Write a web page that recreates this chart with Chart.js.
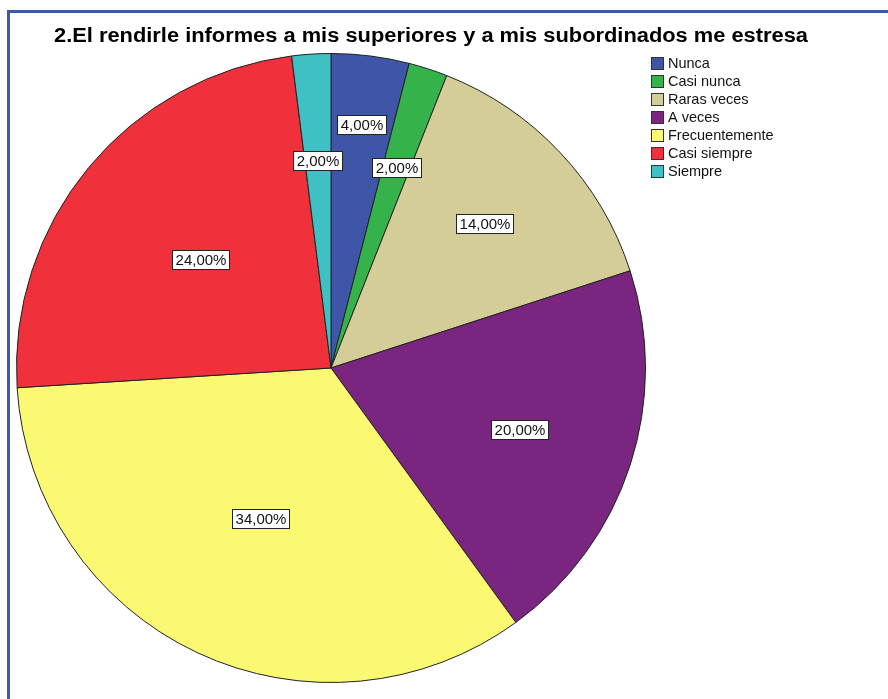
<!DOCTYPE html>
<html>
<head>
<meta charset="utf-8">
<script src="https://cdn.jsdelivr.net/npm/chart.js@4.4.1/dist/chart.umd.min.js"></script>
<style>
    body { margin: 0; background: #fff; }
    #wrap { position: relative; width: 888px; height: 699px; }
</style>
</head>
<body>
<div id="wrap"><canvas id="pieChart"></canvas></div>
<script>
// Survey answers for item 2 (percent of respondents)
const categories = ['Nunca', 'Casi nunca', 'Raras veces', 'A veces', 'Frecuentemente', 'Casi siempre', 'Siempre'];
const percents = [4, 2, 14, 20, 34, 24, 2];
const sliceColors = ['#3F55A8', '#35B34A', '#D4CD98', '#7A2680', '#FBF872', '#F0313B', '#3EC0C4'];
// how far out (fraction of radius) each value box sits
const labelRadius = [0.78, 0.67, 0.67, 0.63, 0.53, 0.54, 0.66];
const chartTitle = '2.El rendirle informes a mis superiores y a mis subordinados me estresa';

const fontFamily = 'Arial, "Liberation Sans", sans-serif';

function formatPct(v) {
    return v.toFixed(2).replace('.', ',') + '%';
}

// Frame and title behind the pie
const framePlugin = {
    id: 'frame',
    beforeDraw(chart) {
        const ctx = chart.ctx;
        ctx.save();
        ctx.fillStyle = '#fff';
        ctx.fillRect(0, 0, chart.width, chart.height);
        ctx.strokeStyle = '#3A5CA8';
        ctx.lineWidth = 3;
        ctx.beginPath();
        ctx.moveTo(8.5, chart.height + 5);
        ctx.lineTo(8.5, 11.5);
        ctx.lineTo(chart.width + 5, 11.5);
        ctx.stroke();

        ctx.fillStyle = '#000';
        ctx.font = 'bold 20px ' + fontFamily;
        ctx.textAlign = 'center';
        ctx.textBaseline = 'middle';
        const w = ctx.measureText(chartTitle).width;
        const target = 754;
        ctx.translate(431, 36);
        ctx.scale(target / w, 1.0);
        ctx.fillText(chartTitle, 0, 0);
        ctx.restore();
    }
};

// Boxed percentage on each slice
const valueLabels = {
    id: 'valueLabels',
    afterDatasetsDraw(chart) {
        const ctx = chart.ctx;
        const meta = chart.getDatasetMeta(0);
        ctx.save();
        ctx.font = '15px ' + fontFamily;
        ctx.textAlign = 'center';
        ctx.textBaseline = 'middle';
        meta.data.forEach((arc, i) => {
            const p = arc.getProps(['x', 'y', 'startAngle', 'endAngle', 'outerRadius'], true);
            const mid = (p.startAngle + p.endAngle) / 2;
            const r = p.outerRadius * labelRadius[i];
            const cx = p.x + Math.cos(mid) * r;
            const cy = p.y + Math.sin(mid) * r;
            const text = formatPct(percents[i]);
            const tw = ctx.measureText(text).width;
            const bw = Math.round(tw + 6), bh = 19;
            const bx = Math.round(cx - bw / 2) + 0.5, by = Math.round(cy - bh / 2) + 0.5;
            ctx.fillStyle = '#fff';
            ctx.fillRect(bx, by, bw, bh);
            ctx.strokeStyle = '#222';
            ctx.lineWidth = 1;
            ctx.strokeRect(bx, by, bw, bh);
            ctx.fillStyle = '#111';
            ctx.fillText(text, bx + bw / 2, by + bh / 2 + 1);
        });
        ctx.restore();
    }
};

// Legend block on the right
const sideLegend = {
    id: 'sideLegend',
    afterDraw(chart) {
        const ctx = chart.ctx;
        const x0 = 651, y0 = 57, row = 18;
        ctx.save();
        ctx.font = '14.5px ' + fontFamily;
        ctx.textAlign = 'left';
        ctx.textBaseline = 'middle';
        chart.data.labels.forEach((label, i) => {
            const y = y0 + i * row;
            ctx.fillStyle = sliceColors[i];
            ctx.fillRect(x0 + 0.5, y + 0.5, 12, 12);
            ctx.strokeStyle = '#333';
            ctx.lineWidth = 1;
            ctx.strokeRect(x0 + 0.5, y + 0.5, 12, 12);
            ctx.fillStyle = '#111';
            ctx.fillText(label, x0 + 17, y + 7);
        });
        ctx.restore();
    }
};

window.addEventListener('DOMContentLoaded', () => {
    const ctx = document.getElementById('pieChart').getContext('2d');
    new Chart(ctx, {
        type: 'pie',
        data: {
            labels: categories,
            datasets: [{
                data: percents,
                backgroundColor: sliceColors,
                borderColor: '#222',
                borderWidth: 1
            }]
        },
        options: {
            responsive: true,
            maintainAspectRatio: false,
            animation: false,
            layout: {
                padding: { left: 16, right: 242, top: 53, bottom: 16 }
            },
            plugins: {
                legend: { display: false },
                tooltip: { enabled: false },
                title: { display: false }
            }
        },
        plugins: [framePlugin, valueLabels, sideLegend]
    });
});
</script>
</body>
</html>
